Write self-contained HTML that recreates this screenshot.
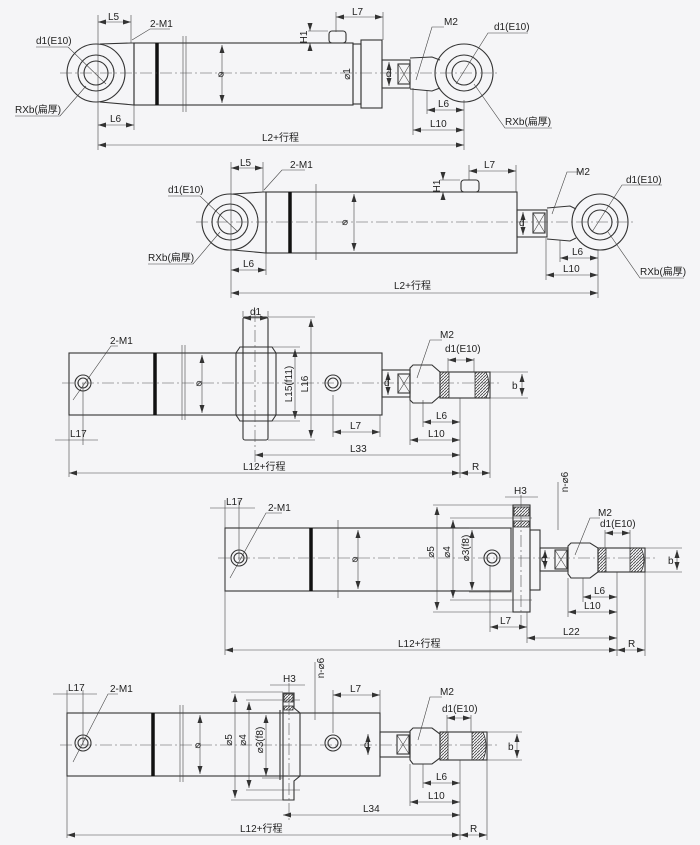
<!DOCTYPE html>
<html><head><meta charset="utf-8"><style>
html,body{margin:0;padding:0;background:#f5f5f7}
svg{display:block}
text{font-family:"Liberation Sans","Noto Sans CJK SC",sans-serif;font-size:10px;fill:#222}
.r{text-anchor:middle}
.o{fill:none;stroke:#333;stroke-width:1.1}
.t{fill:none;stroke:#444;stroke-width:0.6}
.c{fill:none;stroke:#555;stroke-width:0.6;stroke-dasharray:12 3 2 3}
.k{stroke:#111;stroke-width:3.5}
.h{fill:url(#hat);stroke:#333;stroke-width:0.8}
</style></head><body>
<svg width="700" height="845" viewBox="0 0 700 845">
<defs>
<marker id="a" markerWidth="8" markerHeight="6" refX="8" refY="3" orient="auto-start-reverse" markerUnits="userSpaceOnUse"><path d="M0,0.5 L8,3 L0,5.5 z" fill="#333"/></marker>
<pattern id="hat" width="3" height="3" patternUnits="userSpaceOnUse"><path d="M0,3 L3,0" stroke="#444" stroke-width="0.8"/></pattern>
</defs>

<!-- ===== Diagram 1 ===== -->
<g>
<circle class="o" cx="96" cy="73" r="29"/><circle class="o" cx="96" cy="73" r="18"/><circle class="o" cx="96" cy="73" r="12"/>
<path class="o" d="M100,44 L131,43 L134,43 L134,105 L100,102"/>
<rect class="o" x="134" y="43" width="219" height="62"/>
<line class="k" x1="157" y1="43" x2="157" y2="105"/>
<line class="t" x1="183" y1="36" x2="183" y2="112"/><line class="t" x1="186" y1="36" x2="186" y2="112"/>
<rect class="o" x="329" y="31" width="17" height="12" rx="3"/>
<rect class="o" x="353" y="44" width="8" height="60"/>
<rect class="o" x="361" y="40" width="21" height="68"/>
<rect class="o" x="382" y="60" width="28" height="28"/>
<rect class="o" x="398" y="64" width="12" height="20"/><path class="t" d="M398,64 L410,84 M410,64 L398,84"/>
<path class="o" d="M410,58 L432,57 L440,60 M410,89 L432,91 L440,88"/>
<circle class="o" cx="464" cy="73" r="29"/><circle class="o" cx="464" cy="73" r="18"/><circle class="o" cx="464" cy="73" r="12"/>
<line class="c" x1="60" y1="73" x2="500" y2="73"/>
<line class="t" x1="222" y1="45" x2="222" y2="103" marker-start="url(#a)" marker-end="url(#a)"/>
<text x="218" y="77" font-size="8">⌀</text>
<text class="r" x="350" y="74" font-size="8" transform="rotate(-90 350 74)">⌀1</text>
<line class="t" x1="389" y1="62" x2="389" y2="86" marker-start="url(#a)" marker-end="url(#a)"/><text x="386" y="77" font-size="8">d</text>
<line class="t" x1="98" y1="15" x2="98" y2="150"/><line class="t" x1="131" y1="15" x2="131" y2="43"/>
<line class="t" x1="98" y1="22" x2="131" y2="22" marker-start="url(#a)" marker-end="url(#a)"/><text x="108" y="20">L5</text>
<line class="t" x1="336" y1="12" x2="336" y2="32"/><line class="t" x1="383" y1="12" x2="383" y2="40"/>
<line class="t" x1="336" y1="17" x2="383" y2="17" marker-start="url(#a)" marker-end="url(#a)"/><text x="352" y="15">L7</text>
<line class="t" x1="308" y1="31" x2="328" y2="31"/><line class="t" x1="308" y1="43" x2="328" y2="43"/>
<line class="t" x1="310" y1="24" x2="310" y2="31" marker-end="url(#a)"/><line class="t" x1="310" y1="50" x2="310" y2="43" marker-end="url(#a)"/>
<text class="r" x="307" y="37" font-size="9" transform="rotate(-90 307 37)">H1</text>
<line class="t" x1="134" y1="105" x2="134" y2="130"/>
<line class="t" x1="98" y1="125" x2="134" y2="125" marker-start="url(#a)" marker-end="url(#a)"/><text x="110" y="122">L6</text>
<line class="t" x1="413" y1="88" x2="413" y2="135"/><line class="t" x1="427" y1="90" x2="427" y2="114"/><line class="t" x1="464" y1="100" x2="464" y2="150"/>
<line class="t" x1="427" y1="110" x2="464" y2="110" marker-start="url(#a)" marker-end="url(#a)"/><text x="438" y="107">L6</text>
<line class="t" x1="413" y1="130" x2="464" y2="130" marker-start="url(#a)" marker-end="url(#a)"/><text x="430" y="127">L10</text>
<line class="t" x1="98" y1="145" x2="464" y2="145" marker-start="url(#a)" marker-end="url(#a)"/><text x="262" y="141">L2+行程</text>
<path class="t" d="M132,40 L150,29 L170,29"/><text x="150" y="27">2-M1</text>
<path class="t" d="M36,47 L68,47 L106,84"/><text x="36" y="44">d1(E10)</text>
<path class="t" d="M15,116 L60,116 L86,86"/><text x="15" y="113">RXb(扁厚)</text>
<path class="t" d="M416,80 L432,27 L444,27"/><text x="444" y="25">M2</text>
<path class="t" d="M528,33 L488,33 L456,84"/><text x="494" y="30">d1(E10)</text>
<path class="t" d="M552,128 L505,128 L474,84"/><text x="505" y="125">RXb(扁厚)</text>
</g>

<!-- ===== Diagram 2 ===== -->
<g>
<circle class="o" cx="230" cy="222" r="28"/><circle class="o" cx="230" cy="222" r="18"/><circle class="o" cx="230" cy="222" r="12"/>
<path class="o" d="M233,194 L263,192 L266,192 L266,253 L233,250"/>
<rect class="o" x="266" y="192" width="251" height="61"/>
<line class="k" x1="290" y1="192" x2="290" y2="253"/>
<line class="t" x1="316" y1="184" x2="316" y2="260"/>
<rect class="o" x="461" y="180" width="18" height="12" rx="3"/>
<rect class="o" x="517" y="210" width="30" height="27"/>
<rect class="o" x="533" y="213" width="12" height="20"/><path class="t" d="M533,213 L545,233 M545,213 L533,233"/>
<path class="o" d="M547,208 L570,206 L576,209 M547,239 L570,241 L576,238"/>
<circle class="o" cx="600" cy="222" r="28"/><circle class="o" cx="600" cy="222" r="18"/><circle class="o" cx="600" cy="222" r="12"/>
<line class="c" x1="196" y1="222" x2="636" y2="222"/>
<line class="t" x1="354" y1="194" x2="354" y2="251" marker-start="url(#a)" marker-end="url(#a)"/><text x="342" y="225" font-size="8">⌀</text>
<line class="t" x1="523" y1="212" x2="523" y2="235" marker-start="url(#a)" marker-end="url(#a)"/><text x="519" y="226" font-size="8">d</text>
<line class="t" x1="231" y1="162" x2="231" y2="298"/><line class="t" x1="263" y1="162" x2="263" y2="192"/>
<line class="t" x1="231" y1="168" x2="263" y2="168" marker-start="url(#a)" marker-end="url(#a)"/><text x="240" y="166">L5</text>
<line class="t" x1="469" y1="165" x2="469" y2="180"/><line class="t" x1="516" y1="165" x2="516" y2="192"/>
<line class="t" x1="469" y1="171" x2="516" y2="171" marker-start="url(#a)" marker-end="url(#a)"/><text x="484" y="168">L7</text>
<line class="t" x1="440" y1="180" x2="460" y2="180"/><line class="t" x1="440" y1="192" x2="460" y2="192"/>
<line class="t" x1="443" y1="173" x2="443" y2="180" marker-end="url(#a)"/><line class="t" x1="443" y1="199" x2="443" y2="192" marker-end="url(#a)"/>
<text class="r" x="440" y="186" font-size="9" transform="rotate(-90 440 186)">H1</text>
<line class="t" x1="266" y1="253" x2="266" y2="275"/>
<line class="t" x1="231" y1="270" x2="266" y2="270" marker-start="url(#a)" marker-end="url(#a)"/><text x="243" y="267">L6</text>
<line class="t" x1="546" y1="238" x2="546" y2="280"/><line class="t" x1="560" y1="240" x2="560" y2="262"/><line class="t" x1="598" y1="250" x2="598" y2="298"/>
<line class="t" x1="560" y1="258" x2="598" y2="258" marker-start="url(#a)" marker-end="url(#a)"/><text x="572" y="255">L6</text>
<line class="t" x1="546" y1="275" x2="598" y2="275" marker-start="url(#a)" marker-end="url(#a)"/><text x="563" y="272">L10</text>
<line class="t" x1="231" y1="293" x2="598" y2="293" marker-start="url(#a)" marker-end="url(#a)"/><text x="394" y="289">L2+行程</text>
<path class="t" d="M264,190 L282,170 L305,170"/><text x="290" y="168">2-M1</text>
<path class="t" d="M168,196 L200,196 L238,232"/><text x="168" y="193">d1(E10)</text>
<path class="t" d="M148,264 L193,264 L220,232"/><text x="148" y="261">RXb(扁厚)</text>
<path class="t" d="M552,214 L567,172 L582,172"/><text x="576" y="175">M2</text>
<path class="t" d="M662,185 L622,185 L592,232"/><text x="626" y="183">d1(E10)</text>
<path class="t" d="M684,278 L640,278 L608,232"/><text x="640" y="275">RXb(扁厚)</text>
</g>

<!-- ===== Diagram 3 ===== -->
<g>
<rect class="o" x="69" y="353" width="313" height="62"/>
<line class="k" x1="155" y1="353" x2="155" y2="415"/>
<line class="t" x1="182" y1="345" x2="182" y2="420"/><line class="t" x1="185" y1="345" x2="185" y2="420"/>
<rect class="o" x="243" y="317" width="25" height="123" rx="2" fill="#f5f5f7"/>
<path class="o" d="M240,347 L272,347 L276,353 L276,415 L272,421 L240,421 L236,415 L236,353 Z" fill="#f5f5f7"/>
<circle class="o" cx="83" cy="383" r="8"/><circle class="o" cx="83" cy="383" r="5"/>
<circle class="o" cx="333" cy="383" r="8"/><circle class="o" cx="333" cy="383" r="5"/>
<rect class="o" x="382" y="370" width="28" height="27"/>
<rect class="o" x="398" y="374" width="12" height="19"/><path class="t" d="M398,374 L410,393 M410,374 L398,393"/>
<path class="o" d="M410,368 L413,365 L432,365 L440,372 L440,396 L432,403 L413,403 L410,400 Z"/>
<rect class="o" x="440" y="372" width="50" height="26"/>
<path class="h" d="M440,372 L449,372 L449,398 L440,398 Z"/><path class="h" d="M475,372 L486,372 Q492,385 486,398 L475,398 Z"/>
<line class="c" x1="62" y1="383" x2="500" y2="383"/>
<line class="c" x1="255" y1="310" x2="255" y2="470"/>
<line class="t" x1="202" y1="355" x2="202" y2="413" marker-start="url(#a)" marker-end="url(#a)"/><text x="196" y="386" font-size="8">⌀</text>
<line class="t" x1="388" y1="372" x2="388" y2="395" marker-start="url(#a)" marker-end="url(#a)"/><text x="384" y="386" font-size="8">d</text>
<line class="t" x1="272" y1="347" x2="300" y2="347"/><line class="t" x1="272" y1="421" x2="300" y2="421"/>
<line class="t" x1="295" y1="349" x2="295" y2="419" marker-start="url(#a)" marker-end="url(#a)"/>
<text class="r" x="292" y="384" transform="rotate(-90 292 384)">L15(f11)</text>
<line class="t" x1="268" y1="317" x2="315" y2="317"/><line class="t" x1="268" y1="440" x2="315" y2="440"/>
<line class="t" x1="311" y1="319" x2="311" y2="438" marker-start="url(#a)" marker-end="url(#a)"/>
<text class="r" x="308" y="384" transform="rotate(-90 308 384)">L16</text>
<line class="t" x1="243" y1="311" x2="243" y2="317"/><line class="t" x1="268" y1="311" x2="268" y2="317"/>
<line class="t" x1="243" y1="318" x2="268" y2="318" marker-start="url(#a)" marker-end="url(#a)"/><text x="250" y="315">d1</text>
<line class="t" x1="490" y1="372" x2="528" y2="372"/><line class="t" x1="490" y1="398" x2="528" y2="398"/>
<line class="t" x1="522" y1="374" x2="522" y2="396" marker-start="url(#a)" marker-end="url(#a)"/><text x="512" y="389">b</text>
<line class="t" x1="448" y1="358" x2="448" y2="372"/><line class="t" x1="474" y1="358" x2="474" y2="372"/>
<line class="t" x1="448" y1="360" x2="474" y2="360" marker-start="url(#a)" marker-end="url(#a)"/><text x="445" y="352">d1(E10)</text>
<path class="t" d="M417,378 L430,340 L442,340"/><text x="440" y="338">M2</text>
<line class="t" x1="83" y1="383" x2="83" y2="445"/><line class="t" x1="69" y1="415" x2="69" y2="477"/>
<line class="t" x1="55" y1="440" x2="98" y2="440"/><text x="70" y="437">L17</text>
<path class="t" d="M73,400 L111,346 L118,346"/><text x="110" y="344">2-M1</text>
<line class="t" x1="333" y1="395" x2="333" y2="437"/><line class="t" x1="380" y1="415" x2="380" y2="437"/>
<line class="t" x1="333" y1="432" x2="380" y2="432" marker-start="url(#a)" marker-end="url(#a)"/><text x="350" y="429">L7</text>
<line class="t" x1="423" y1="400" x2="423" y2="427"/><line class="t" x1="410" y1="400" x2="410" y2="445"/><line class="t" x1="460" y1="398" x2="460" y2="478"/><line class="t" x1="490" y1="398" x2="490" y2="478"/>
<line class="t" x1="423" y1="422" x2="460" y2="422" marker-start="url(#a)" marker-end="url(#a)"/><text x="436" y="419">L6</text>
<line class="t" x1="410" y1="440" x2="460" y2="440" marker-start="url(#a)" marker-end="url(#a)"/><text x="428" y="437">L10</text>
<line class="t" x1="255" y1="455" x2="460" y2="455" marker-start="url(#a)" marker-end="url(#a)"/><text x="350" y="452">L33</text>
<line class="t" x1="69" y1="473" x2="460" y2="473" marker-start="url(#a)" marker-end="url(#a)"/><text x="243" y="470">L12+行程</text>
<line class="t" x1="460" y1="473" x2="490" y2="473" marker-start="url(#a)" marker-end="url(#a)"/><text x="472" y="470">R</text>
</g>

<!-- ===== Diagram 4 ===== -->
<g>
<rect class="o" x="225" y="528" width="286" height="63"/>
<line class="k" x1="311" y1="528" x2="311" y2="591"/>
<line class="t" x1="338" y1="520" x2="338" y2="598"/>
<rect class="o" x="513" y="505" width="17" height="107"/>
<rect class="h" x="514" y="507" width="15" height="9"/><rect class="h" x="514" y="521" width="15" height="6"/>
<rect class="o" x="530" y="530" width="10" height="60"/>
<circle class="o" cx="239" cy="558" r="8"/><circle class="o" cx="239" cy="558" r="5"/>
<circle class="o" cx="492" cy="558" r="8"/><circle class="o" cx="492" cy="558" r="5"/>
<rect class="o" x="540" y="548" width="28" height="23"/>
<rect class="o" x="555" y="550" width="12" height="19"/><path class="t" d="M555,550 L567,569 M567,550 L555,569"/>
<path class="o" d="M568,546 L571,543 L590,543 L598,548 L598,572 L590,578 L571,578 L568,574 Z"/>
<rect class="o" x="598" y="548" width="47" height="24"/>
<path class="h" d="M598,548 L606,548 L606,572 L598,572 Z"/><path class="h" d="M630,548 L641,548 Q647,560 641,572 L630,572 Z"/>
<line class="c" x1="218" y1="558" x2="655" y2="558"/>
<line class="c" x1="521" y1="495" x2="521" y2="630"/>
<line class="t" x1="358" y1="530" x2="358" y2="589" marker-start="url(#a)" marker-end="url(#a)"/><text x="352" y="562" font-size="8">⌀</text>
<line class="t" x1="545" y1="550" x2="545" y2="569" marker-start="url(#a)" marker-end="url(#a)"/><text x="541" y="562" font-size="8">d</text>
<line class="t" x1="433" y1="505" x2="513" y2="505"/><line class="t" x1="433" y1="612" x2="513" y2="612"/>
<line class="t" x1="437" y1="507" x2="437" y2="610" marker-start="url(#a)" marker-end="url(#a)"/><text class="r" x="434" y="552" transform="rotate(-90 434 552)">⌀5</text>
<line class="t" x1="450" y1="518" x2="532" y2="518"/><line class="t" x1="450" y1="600" x2="532" y2="600"/>
<line class="t" x1="453" y1="520" x2="453" y2="598" marker-start="url(#a)" marker-end="url(#a)"/><text class="r" x="450" y="552" transform="rotate(-90 450 552)">⌀4</text>
<line class="t" x1="469" y1="528" x2="512" y2="528"/><line class="t" x1="469" y1="592" x2="512" y2="592"/>
<line class="t" x1="472" y1="530" x2="472" y2="590" marker-start="url(#a)" marker-end="url(#a)"/><text class="r" x="469" y="548" transform="rotate(-90 469 548)">⌀3(f8)</text>
<line class="t" x1="505" y1="497" x2="538" y2="497"/><text x="514" y="494">H3</text>
<line class="t" x1="558" y1="482" x2="558" y2="530"/><text class="r" x="568" y="482" font-size="9" transform="rotate(-90 568 482)">n-⌀6</text>
<line class="t" x1="239" y1="500" x2="239" y2="560"/><line class="t" x1="225" y1="500" x2="225" y2="655"/>
<line class="t" x1="210" y1="508" x2="255" y2="508"/><text x="226" y="505">L17</text>
<path class="t" d="M230,578 L266,513 L282,513"/><text x="268" y="511">2-M1</text>
<path class="t" d="M575,555 L590,518 L600,518"/><text x="598" y="516">M2</text>
<line class="t" x1="605" y1="530" x2="605" y2="548"/><line class="t" x1="630" y1="530" x2="630" y2="548"/>
<line class="t" x1="605" y1="533" x2="630" y2="533" marker-start="url(#a)" marker-end="url(#a)"/><text x="600" y="527">d1(E10)</text>
<line class="t" x1="645" y1="548" x2="682" y2="548"/><line class="t" x1="645" y1="572" x2="682" y2="572"/>
<line class="t" x1="677" y1="550" x2="677" y2="570" marker-start="url(#a)" marker-end="url(#a)"/><text x="668" y="564">b</text>
<line class="t" x1="490" y1="566" x2="490" y2="632"/><line class="t" x1="527" y1="612" x2="527" y2="643"/>
<line class="t" x1="490" y1="627" x2="527" y2="627" marker-start="url(#a)" marker-end="url(#a)"/><text x="500" y="624">L7</text>
<line class="t" x1="583" y1="578" x2="583" y2="602"/><line class="t" x1="568" y1="578" x2="568" y2="617"/><line class="t" x1="617" y1="572" x2="617" y2="656"/><line class="t" x1="645" y1="572" x2="645" y2="656"/>
<line class="t" x1="583" y1="597" x2="617" y2="597" marker-start="url(#a)" marker-end="url(#a)"/><text x="594" y="594">L6</text>
<line class="t" x1="568" y1="612" x2="617" y2="612" marker-start="url(#a)" marker-end="url(#a)"/><text x="584" y="609">L10</text>
<line class="t" x1="527" y1="638" x2="617" y2="638" marker-start="url(#a)" marker-end="url(#a)"/><text x="563" y="635">L22</text>
<line class="t" x1="225" y1="650" x2="617" y2="650" marker-start="url(#a)" marker-end="url(#a)"/><text x="398" y="647">L12+行程</text>
<line class="t" x1="617" y1="650" x2="645" y2="650" marker-start="url(#a)" marker-end="url(#a)"/><text x="628" y="647">R</text>
</g>

<!-- ===== Diagram 5 ===== -->
<g>
<rect class="o" x="67" y="713" width="313" height="63"/>
<line class="k" x1="153" y1="713" x2="153" y2="776"/>
<line class="t" x1="180" y1="705" x2="180" y2="782"/><line class="t" x1="183" y1="705" x2="183" y2="782"/>
<path class="o" d="M283,693 L294,693 L294,708 L300,713 L300,776 L294,781 L294,800 L283,800 Z" fill="#f5f5f7"/>
<line class="o" x1="280" y1="710" x2="280" y2="780"/>
<rect class="h" x="284" y="694" width="9" height="8"/><rect class="h" x="284" y="706" width="9" height="4"/>
<circle class="o" cx="83" cy="743" r="8"/><circle class="o" cx="83" cy="743" r="5"/>
<circle class="o" cx="333" cy="743" r="8"/><circle class="o" cx="333" cy="743" r="5"/>
<rect class="o" x="380" y="732" width="30" height="25"/>
<rect class="o" x="397" y="735" width="12" height="19"/><path class="t" d="M397,735 L409,754 M409,735 L397,754"/>
<path class="o" d="M410,731 L413,728 L432,728 L440,734 L440,758 L432,764 L413,764 L410,760 Z"/>
<rect class="o" x="440" y="732" width="47" height="28"/>
<path class="h" d="M440,732 L448,732 L448,760 L440,760 Z"/><path class="h" d="M472,732 L483,732 Q489,746 483,760 L472,760 Z"/>
<line class="c" x1="60" y1="745" x2="500" y2="745"/>
<line class="c" x1="289" y1="683" x2="289" y2="820"/>
<line class="t" x1="200" y1="715" x2="200" y2="774" marker-start="url(#a)" marker-end="url(#a)"/><text x="195" y="748" font-size="8">⌀</text>
<line class="t" x1="368" y1="734" x2="368" y2="755" marker-start="url(#a)" marker-end="url(#a)"/><text x="364" y="748" font-size="8">d</text>
<line class="t" x1="231" y1="692" x2="283" y2="692"/><line class="t" x1="231" y1="800" x2="283" y2="800"/>
<line class="t" x1="235" y1="694" x2="235" y2="798" marker-start="url(#a)" marker-end="url(#a)"/><text class="r" x="232" y="740" transform="rotate(-90 232 740)">⌀5</text>
<line class="t" x1="246" y1="700" x2="300" y2="700"/><line class="t" x1="246" y1="790" x2="300" y2="790"/>
<line class="t" x1="249" y1="702" x2="249" y2="788" marker-start="url(#a)" marker-end="url(#a)"/><text class="r" x="246" y="740" transform="rotate(-90 246 740)">⌀4</text>
<line class="t" x1="262" y1="713" x2="283" y2="713"/><line class="t" x1="262" y1="778" x2="283" y2="778"/>
<line class="t" x1="266" y1="715" x2="266" y2="776" marker-start="url(#a)" marker-end="url(#a)"/><text class="r" x="263" y="740" transform="rotate(-90 263 740)">⌀3(f8)</text>
<line class="t" x1="270" y1="685" x2="305" y2="685"/><text x="283" y="682">H3</text>
<line class="t" x1="315" y1="662" x2="315" y2="720"/><text class="r" x="324" y="668" font-size="9" transform="rotate(-90 324 668)">n-⌀6</text>
<line class="t" x1="83" y1="690" x2="83" y2="745"/><line class="t" x1="67" y1="690" x2="67" y2="838"/>
<line class="t" x1="53" y1="694" x2="97" y2="694"/><text x="68" y="691">L17</text>
<path class="t" d="M73,762 L108,694 L118,694"/><text x="110" y="692">2-M1</text>
<line class="t" x1="333" y1="690" x2="333" y2="733"/><line class="t" x1="380" y1="690" x2="380" y2="713"/>
<line class="t" x1="333" y1="695" x2="380" y2="695" marker-start="url(#a)" marker-end="url(#a)"/><text x="350" y="692">L7</text>
<path class="t" d="M418,740 L430,697 L442,697"/><text x="440" y="695">M2</text>
<line class="t" x1="447" y1="715" x2="447" y2="732"/><line class="t" x1="471" y1="715" x2="471" y2="732"/>
<line class="t" x1="447" y1="718" x2="471" y2="718" marker-start="url(#a)" marker-end="url(#a)"/><text x="442" y="712">d1(E10)</text>
<line class="t" x1="487" y1="732" x2="522" y2="732"/><line class="t" x1="487" y1="760" x2="522" y2="760"/>
<line class="t" x1="517" y1="734" x2="517" y2="758" marker-start="url(#a)" marker-end="url(#a)"/><text x="508" y="750">b</text>
<line class="t" x1="423" y1="764" x2="423" y2="788"/><line class="t" x1="410" y1="764" x2="410" y2="806"/><line class="t" x1="460" y1="760" x2="460" y2="840"/><line class="t" x1="487" y1="760" x2="487" y2="840"/>
<line class="t" x1="423" y1="783" x2="460" y2="783" marker-start="url(#a)" marker-end="url(#a)"/><text x="436" y="780">L6</text>
<line class="t" x1="410" y1="802" x2="460" y2="802" marker-start="url(#a)" marker-end="url(#a)"/><text x="428" y="799">L10</text>
<line class="t" x1="283" y1="815" x2="460" y2="815" marker-start="url(#a)" marker-end="url(#a)"/><text x="363" y="812">L34</text>
<line class="t" x1="67" y1="835" x2="460" y2="835" marker-start="url(#a)" marker-end="url(#a)"/><text x="240" y="832">L12+行程</text>
<line class="t" x1="460" y1="835" x2="487" y2="835" marker-start="url(#a)" marker-end="url(#a)"/><text x="470" y="832">R</text>
</g>
</svg>
</body></html>
